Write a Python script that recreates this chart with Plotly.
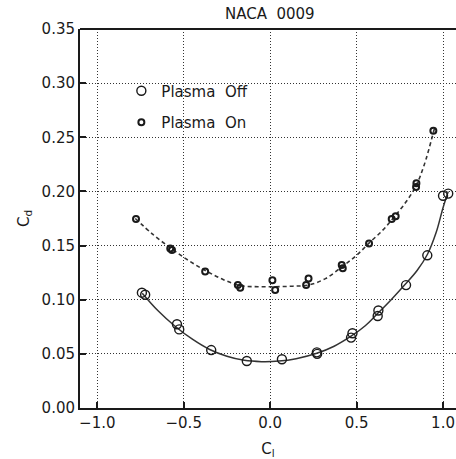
import plotly.graph_objects as go

# Plasma Off (circles)
off_cl = [-0.742, -0.723, -0.539, -0.526, -0.341, -0.135, 0.068, 0.270, 0.272,
          0.468, 0.476, 0.622, 0.626, 0.786, 0.909, 1.000, 1.030]
off_cd = [0.1065, 0.1046, 0.0773, 0.0726, 0.0535, 0.0434, 0.0450, 0.0514, 0.0500,
          0.0650, 0.0690, 0.0850, 0.0900, 0.1135, 0.1410, 0.1960, 0.1980]

# Plasma On (small markers)
on_cl = [-0.776, -0.578, -0.568, -0.376, -0.187, -0.173, 0.013, 0.029, 0.208, 0.222,
         0.414, 0.420, 0.572, 0.703, 0.726, 0.844, 0.846, 0.944]
on_cd = [0.1745, 0.1474, 0.1460, 0.1260, 0.1135, 0.1110, 0.1180, 0.1090, 0.1135, 0.1197,
         0.1320, 0.1290, 0.1520, 0.1745, 0.1770, 0.2040, 0.2075, 0.2560]

# Fitted curves
off_fit_cl = [-0.74, -0.65, -0.55, -0.45, -0.35, -0.25, -0.15, -0.05, 0.05, 0.15, 0.27,
              0.37, 0.47, 0.55, 0.62, 0.70, 0.78, 0.85, 0.91, 0.96, 1.00, 1.03]
off_fit_cd = [0.1060, 0.0900, 0.0755, 0.0635, 0.0540, 0.0478, 0.0440, 0.0428, 0.0433, 0.0455,
              0.0505, 0.0570, 0.0665, 0.0760, 0.0870, 0.1000, 0.1140, 0.1270, 0.1420, 0.1620,
              0.1850, 0.2000]

on_fit_cl = [-0.78, -0.68, -0.57, -0.47, -0.37, -0.27, -0.17, -0.07, 0.03, 0.13, 0.22,
             0.32, 0.42, 0.50, 0.57, 0.65, 0.71, 0.78, 0.84, 0.89, 0.95]
on_fit_cd = [0.1750, 0.1605, 0.1470, 0.1360, 0.1265, 0.1185, 0.1130, 0.1120, 0.1120, 0.1125,
             0.1135, 0.1195, 0.1310, 0.1410, 0.1520, 0.1640, 0.1750, 0.1890, 0.2040, 0.2240,
             0.2580]

title_text = "NACA  0009"
x_ticks = [-1.0, -0.5, 0.0, 0.5, 1.0]
x_ticktext = ["\u22121.0", "\u22120.5", "0.0", "0.5", "1.0"]
y_ticks = [0.00, 0.05, 0.10, 0.15, 0.20, 0.25, 0.30, 0.35]

FONT = "DejaVu Sans"
INK = "#1a1a1a"

fig = go.Figure()
fig.add_trace(go.Scatter(x=off_fit_cl, y=off_fit_cd, mode="lines", line_shape="spline",
                         line=dict(color="#333333", width=1.5), showlegend=False, hoverinfo="skip"))
fig.add_trace(go.Scatter(x=on_fit_cl, y=on_fit_cd, mode="lines", line_shape="spline",
                         line=dict(color="#333333", width=1.6, dash="4px,3px"),
                         showlegend=False, hoverinfo="skip"))
fig.add_trace(go.Scatter(x=off_cl, y=off_cd, mode="markers", name="Plasma  Off",
                         legendgroup="a",
                         marker=dict(symbol="circle-open", size=9, color=INK,
                                     line=dict(width=1.4, color=INK))))
fig.add_trace(go.Scatter(x=on_cl, y=on_cd, mode="markers", name="Plasma  On",
                         legendgroup="b",
                         marker=dict(symbol="circle-open", size=6, color=INK,
                                     line=dict(width=2, color=INK))))

axis_common = dict(showgrid=True, gridcolor="#333333", griddash="1px,2px", gridwidth=1,
                   zeroline=False, showline=True, linecolor=INK, linewidth=2,
                   ticks="inside", ticklen=6, tickcolor=INK, tickwidth=1.5,
                   tickfont=dict(family=FONT, size=15, color=INK))

fig.update_layout(
    width=456, height=459,
    margin=dict(l=80, r=0, t=29, b=51),
    paper_bgcolor="white", plot_bgcolor="white",
    font=dict(family=FONT, color=INK),
    showlegend=True,
    legend=dict(x=0.11, y=0.88, xanchor="left", yanchor="top",
                bgcolor="rgba(0,0,0,0)", font=dict(family=FONT, size=15, color=INK),
                tracegroupgap=9, itemwidth=30),
    xaxis=dict(range=[-1.1, 1.075], tickvals=x_ticks, ticktext=x_ticktext,
               mirror=False, title=dict(text="C<sub>l</sub>", font=dict(family=FONT, size=15, color=INK), standoff=12),
               **axis_common),
    yaxis=dict(range=[0, 0.35], tickvals=y_ticks, tickformat=".2f",
               mirror=False, title=dict(text="C<sub>d</sub>", font=dict(family=FONT, size=15, color=INK), standoff=8),
               **axis_common),
    annotations=[dict(text=title_text, x=0.505, y=1.0, xref="paper", yref="paper",
                      xanchor="center", yanchor="bottom", yshift=4, showarrow=False,
                      font=dict(family=FONT, size=15, color=INK))],
    shapes=[dict(type="line", xref="paper", yref="paper", x0=0, x1=1, y0=1, y1=1,
                 line=dict(color=INK, width=2))],
)

fig.write_html("out.html")
